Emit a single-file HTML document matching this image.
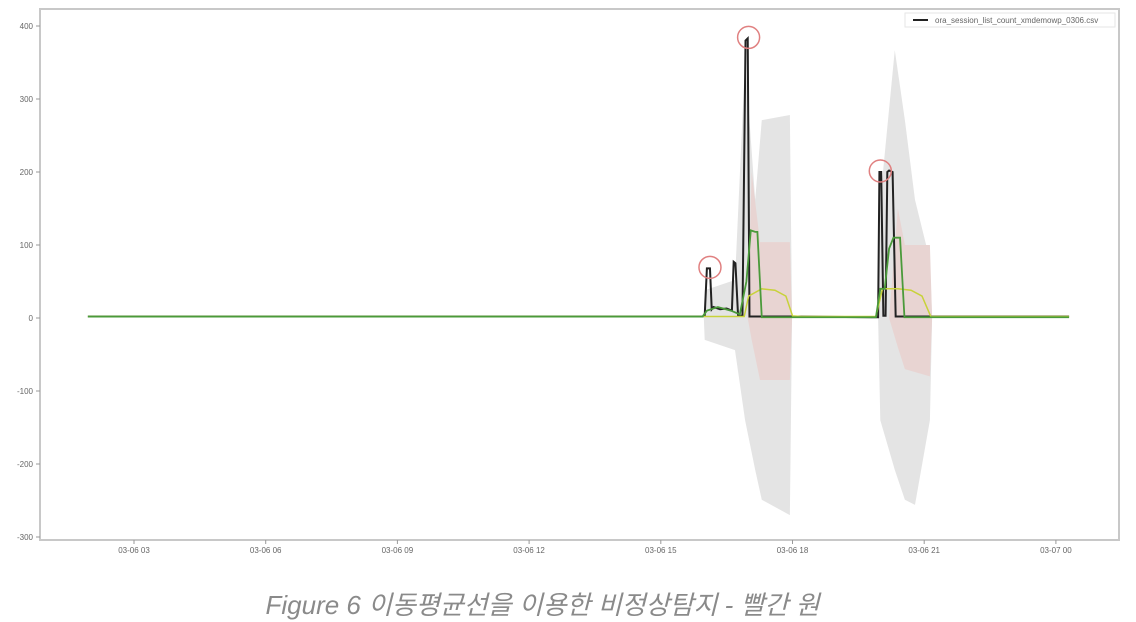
<!DOCTYPE html>
<html><head><meta charset="utf-8"><style>
html,body{margin:0;padding:0;background:#fff;width:1136px;height:621px;overflow:hidden}
svg{position:absolute;left:0;top:0}
.cap{position:absolute;left:0;width:1085px;top:585px;text-align:center;font-family:"Liberation Sans","Noto Sans CJK KR",sans-serif;font-style:italic;font-size:26px;color:#8a8a8a}
</style></head><body>
<svg width="1136" height="621">
<rect x="40" y="9" width="1079" height="531" fill="#fff" stroke="#c8c8c8" stroke-width="2"/>
<g id="bands"></g><g id="lines"></g><g id="axes"></g><g id="circles"></g>
<g>
<rect x="905" y="13" width="210" height="14" fill="#fff" stroke="#e6e6e6"/>
<line x1="913" y1="20" x2="928" y2="20" stroke="#222" stroke-width="2"/>
<text x="935" y="23" font-family="Liberation Sans" font-size="8" fill="#666">ora_session_list_count_xmdemowp_0306.csv</text>
</g>
</svg>
<div class="cap">Figure 6 이동평균선을 이용한 비정상탐지 - 빨간 원</div>
<script>
// data (time in hours since 03-06 00:00)
const yTicks=[400,300,200,100,0,-100,-200,-300];
const xTickHours=[3,6,9,12,15,18,21,24];
const xTickLabels=["03-06 03","03-06 06","03-06 09","03-06 12","03-06 15","03-06 18","03-06 21","03-07 00"];
const blackT=[1.95,15.95,16.0,16.05,16.12,16.16,16.2,16.35,16.5,16.62,16.66,16.7,16.76,16.8,16.86,16.93,16.98,17.02,17.08,17.3,18.0,19.8,19.95,19.98,20.02,20.07,20.12,20.16,20.2,20.28,20.35,20.45,21.0,24.3];
const blackV=[2,2,3,68,68,12,15,12,13,10,77,75,3,3,3,380,383,2,2,2,2,1,1,200,200,3,3,200,202,200,2,2,2,2];
const greenT=[1.95,15.95,16.05,16.3,16.6,16.8,16.95,17.05,17.15,17.2,17.3,18.0,19.9,20.0,20.1,20.2,20.3,20.45,20.55,21.0,24.3];
const greenV=[2,2,10,15,10,5,50,120,118,118,1,1,1,40,40,95,110,110,1,1,1];
const yellowT=[1.95,16.9,17.0,17.3,17.6,17.85,18.0,18.2,19.9,20.05,20.4,20.7,20.95,21.15,24.3];
const yellowV=[2,2,30,40,38,30,3,2,2,40,40,38,30,2,2];
const greyT=[15.98,16.0,16.69,16.92,17.15,17.3,17.94,17.99];
const greyUp=[0,38,52,353,162,271,278,0];
const greyLo=[0,-30,-44,-140,-208,-249,-270,0];
const grey2T=[19.95,20.0,20.33,20.56,20.79,21.13,21.18];
const grey2Up=[0,162,367,271,162,79,0];
const grey2Lo=[0,-140,-208,-249,-256,-140,0];
const pinkT=[16.98,17.07,17.26,17.94,17.99];
const pinkUp=[0,200,104,104,0];
const pinkLo=[0,-30,-85,-85,0];
const pink2T=[20.2,20.4,20.56,21.13,21.18];
const pink2Up=[0,150,100,100,0];
const pink2Lo=[0,-40,-70,-80,0];
const anomT=[16.12,17.0,20.0];
const anomV=[68,383,200];

const X=h=>2.3+43.9*h, Y=v=>318-0.73*v;
const NS="http://www.w3.org/2000/svg";
function mk(tag,attrs,parent){const e=document.createElementNS(NS,tag);for(const k in attrs)e.setAttribute(k,attrs[k]);document.getElementById(parent).appendChild(e);return e;}
function band(T,U,L,fill,name){let d="M"+T.map((t,i)=>X(t)+","+Y(U[i])).join("L");for(let i=T.length-1;i>=0;i--)d+="L"+X(T[i])+","+Y(L[i]);
 const p=mk("path",{d:d+"Z",fill:fill},"bands");
 
 }
band(greyT,greyUp,greyLo,"#e4e4e4","grey-band-1");
band(grey2T,grey2Up,grey2Lo,"#e4e4e4","grey-band-2");
band(pinkT,pinkUp,pinkLo,"#e8d4d2","pink-band-1");
band(pink2T,pink2Up,pink2Lo,"#e8d4d2","pink-band-2");
function line(T,V,c,w,name){const p=mk("polyline",{points:T.map((t,i)=>X(t)+","+Y(V[i])).join(" "),fill:"none",stroke:c,"stroke-width":w},"lines");
 
 }
line(blackT,blackV,"#222",2,"count-line");
line(yellowT,yellowV,"#c8d23a",1.5,"upper-average-line");
line(greenT,greenV,"#4a9a3a",1.8,"moving-average-line");
yTicks.forEach(v=>{mk("line",{x1:36,x2:40,y1:Y(v),y2:Y(v),stroke:"#999"},"axes");
 const t=mk("text",{x:33,y:Y(v)+3,"text-anchor":"end","font-family":"Liberation Sans","font-size":"8",fill:"#666"},"axes");t.textContent=v;
 
 });
xTickHours.forEach((h,i)=>{mk("line",{x1:X(h),x2:X(h),y1:540,y2:544,stroke:"#999"},"axes");
 const t=mk("text",{x:X(h),y:553,"text-anchor":"middle","font-family":"Liberation Sans","font-size":"8",fill:"#666"},"axes");t.textContent=xTickLabels[i];
 
 });
anomT.forEach((t,i)=>{const c=mk("circle",{cx:X(t),cy:Y(anomV[i])-1,r:11,fill:"none",stroke:"#e08080","stroke-width":1.5},"circles");
 
 });
</script>
</body></html>
